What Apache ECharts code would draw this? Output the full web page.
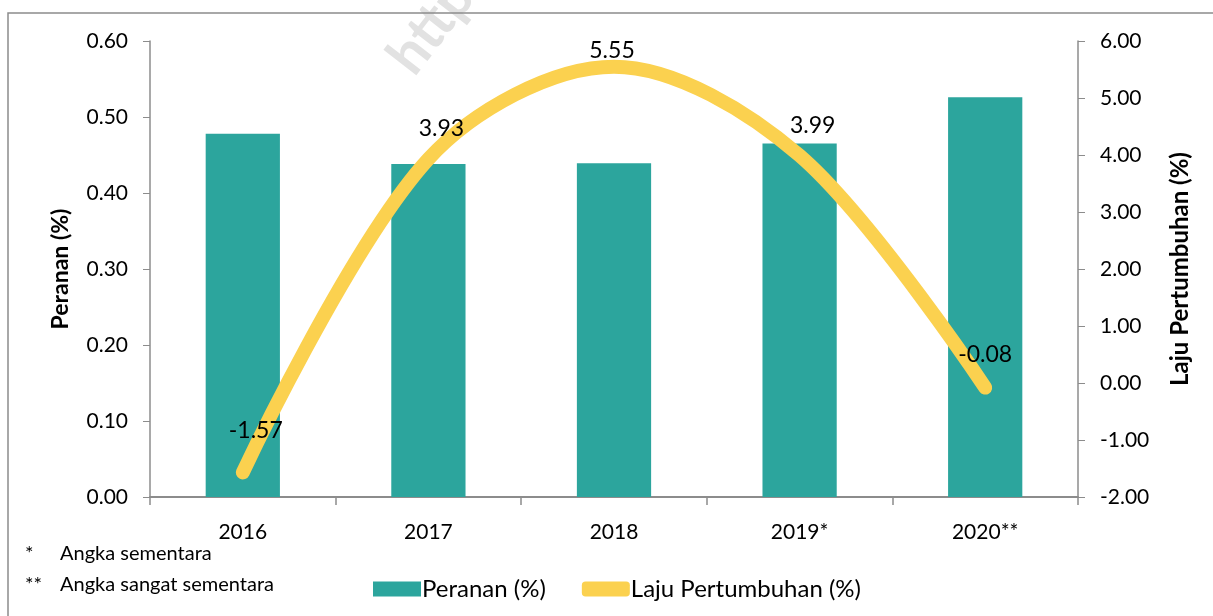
<!DOCTYPE html>
<html>
<head>
<meta charset="utf-8">
<script src="https://cdn.jsdelivr.net/npm/echarts@6/dist/echarts.min.js"></script>
<style>
  html, body { margin: 0; padding: 0; background: #fff; }
  #chart { width: 1213px; height: 616px; }
</style>
</head>
<body>
<div id="chart"></div>
<script>
// data
const years = ['2016', '2017', '2018', '2019*', '2020**'];
const peranan = [0.478, 0.438, 0.439, 0.465, 0.526];
const laju = [-1.57, 3.93, 5.55, 3.99, -0.08];
const footnotes = ['*', 'Angka sementara', '**', 'Angka sangat sementara'];

const font = 'Lato, "Open Sans", sans-serif';
const axisGray = '#8c8c8c';
// label nudges like the excel placement
const labelShift = [[13, -10], [13, 1], [-2, 15], [13, 2], [0, -1]];

let myChart = echarts.init(document.getElementById('chart'));
myChart.setOption({
  backgroundColor: '#fff',
  animation: false,
  textStyle: { fontFamily: font },
  grid: { left: 150, right: 135, top: 41, bottom: 119 },
  legend: {
    left: 368,
    top: 572,
    itemWidth: 48,
    itemHeight: 15,
    itemGap: 36,
    textStyle: { fontSize: 24, color: '#000', fontFamily: font, padding: [0, 0, 0, -4] },
    data: [
      { name: 'Peranan (%)', icon: 'rect' },
      { name: 'Laju Pertumbuhan (%)', icon: 'roundRect' }
    ]
  },
  xAxis: {
    type: 'category',
    data: years,
    axisLine: { lineStyle: { color: axisGray, width: 2 } },
    axisTick: { show: true, length: 8, lineStyle: { color: axisGray, width: 1.5 } },
    axisLabel: { color: '#000', fontSize: 21, margin: 25 }
  },
  yAxis: [{
    type: 'value',
    min: 0, max: 0.6, interval: 0.1,
    name: 'Peranan (%)',
    nameLocation: 'middle',
    nameRotate: 90,
    nameGap: 78,
    nameTextStyle: { fontSize: 23, fontWeight: 'bold', color: '#000' },
    axisLine: { show: true, lineStyle: { color: axisGray, width: 1.5 } },
    axisTick: { show: true, length: 7, lineStyle: { color: axisGray } },
    splitLine: { show: false },
    axisLabel: { color: '#000', fontSize: 21, margin: 22, formatter: v => v.toFixed(2) }
  }, {
    type: 'value',
    min: -2, max: 6, interval: 1,
    name: 'Laju Pertumbuhan (%)',
    nameLocation: 'middle',
    nameRotate: 90,
    nameGap: 90,
    nameTextStyle: { fontSize: 24, fontWeight: 'bold', color: '#000' },
    axisLine: { show: true, lineStyle: { color: axisGray, width: 1.5 } },
    axisTick: { show: true, length: 7, lineStyle: { color: axisGray } },
    splitLine: { show: false },
    axisLabel: { color: '#000', fontSize: 21, margin: 22, formatter: v => v.toFixed(2) }
  }],
  series: [{
    name: 'Peranan (%)',
    type: 'bar',
    barWidth: '40%',
    itemStyle: { color: '#2ca59d' },
    data: peranan
  }, {
    name: 'Laju Pertumbuhan (%)',
    type: 'line',
    yAxisIndex: 1,
    smooth: 0.33,
    symbol: 'circle',
    symbolSize: 0,
    showSymbol: true,
    z: 5,
    itemStyle: { color: '#fbd14f' },
    lineStyle: { color: '#fbd14f', width: 14, cap: 'round' },
    label: {
      show: true,
      position: 'top',
      distance: 20,
      color: '#000',
      fontSize: 23,
      formatter: p => p.value.toFixed(2)
    },
    data: laju.map((v, i) => ({ value: v, label: { offset: labelShift[i] } }))
  }],
  graphic: [
    // outer frame
    { type: 'rect', shape: { x: 8, y: 13, width: 1400, height: 1000 },
      style: { fill: 'none', stroke: '#8c8c8c', lineWidth: 1.5 }, silent: true },
    // watermark
    { type: 'text', x: 422, y: 84, rotation: Math.PI * 0.29, z: -1,
      style: { text: 'https://', fill: '#e2e2e2', font: 'bold 56px ' + font, textVerticalAlign: 'bottom' } },
    { type: 'text', left: 25, top: 544, style: { text: footnotes[0], fill: '#000', font: '20px ' + font } },
    { type: 'text', left: 60, top: 544, style: { text: footnotes[1], fill: '#000', font: '20px ' + font } },
    { type: 'text', left: 25, top: 575, style: { text: footnotes[2], fill: '#000', font: '20px ' + font } },
    { type: 'text', left: 60, top: 575, style: { text: footnotes[3], fill: '#000', font: '20px ' + font } }
  ]
});
</script>
</body>
</html>
